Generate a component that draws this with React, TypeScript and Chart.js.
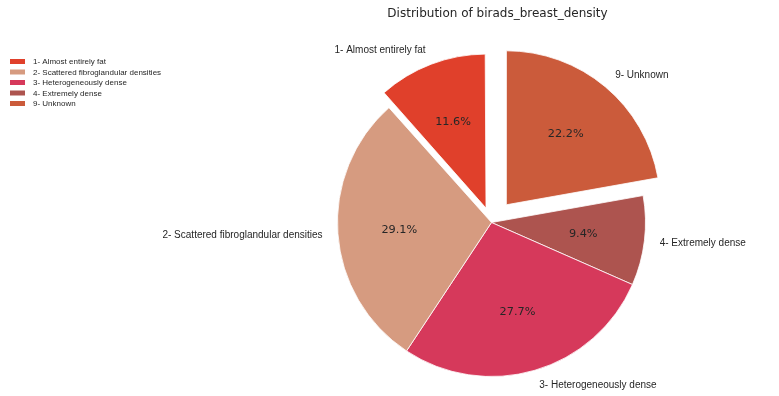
import React, { useEffect, useRef } from "react";
import { Chart, registerables } from "chart.js";

Chart.register(...registerables);

const categories = [
  "1- Almost entirely fat",
  "2- Scattered fibroglandular densities",
  "3- Heterogeneously dense",
  "4- Extremely dense",
  "9- Unknown",
];
const percentages = [11.6, 29.1, 27.7, 9.4, 22.2];
const colors = ["#E0402B", "#D69B80", "#D6395B", "#AD544F", "#CB5B3B"];
const explode = [0.1, 0, 0, 0, 0.15];
const titleText = "Distribution of birads_breast_density";

const W = 779;
const H = 396;
const R = 154;
const TEXT = "#262626";

// matplotlib draws counter-clockwise from 12 o'clock; Chart.js goes clockwise,
// so feed the slices in reverse order.
const order = [4, 3, 2, 1, 0];

const piePlugin = {
  id: "mplPie",
  afterDatasetsUpdate(chart: any) {
    const meta = chart.getDatasetMeta(0);
    meta.data.forEach((arc: any) => {
      const off = (arc.options?.offset || 0) / 4;
      const circ = arc.endAngle - arc.startAngle;
      const fix = 1 - Math.sin(Math.min(Math.PI, circ));
      arc.outerRadius = R - off * fix;
    });
  },
  afterDraw(chart: any) {
    const ctx = chart.ctx;
    const meta = chart.getDatasetMeta(0);
    ctx.save();
    meta.data.forEach((arc: any, j: number) => {
      const i = order[j];
      const mid = (arc.startAngle + arc.endAngle) / 2;
      const d = explode[i] * R;
      const cx = arc.x + Math.cos(mid) * d;
      const cy = arc.y + Math.sin(mid) * d;
      // outer label
      const lx = cx + Math.cos(mid) * R * 1.1;
      const ly = cy + Math.sin(mid) * R * 1.1;
      ctx.fillStyle = TEXT;
      ctx.font = '10px "Liberation Sans", Arial, sans-serif';
      ctx.textBaseline = "middle";
      ctx.textAlign = Math.cos(mid) >= 0 ? "left" : "right";
      ctx.fillText(categories[i], lx, ly + 0.5);
      // percentage
      const px = cx + Math.cos(mid) * R * 0.6;
      const py = cy + Math.sin(mid) * R * 0.6;
      ctx.font = '11.3px "DejaVu Sans", sans-serif';
      ctx.textAlign = "center";
      ctx.fillText(percentages[i].toFixed(1) + "%", px, py + 0.5);
    });
    // title
    ctx.font = '12px "DejaVu Sans", sans-serif';
    ctx.textAlign = "center";
    ctx.textBaseline = "middle";
    ctx.fillStyle = TEXT;
    ctx.fillText(titleText, 497.5, 13.5);
    // legend
    ctx.font = '8px "Liberation Sans", Arial, sans-serif';
    ctx.textAlign = "left";
    categories.forEach((c, i) => {
      const y = 61.5 + i * 10.5;
      ctx.fillStyle = colors[i];
      ctx.fillRect(10, y - 2.5, 15, 5);
      ctx.fillStyle = TEXT;
      ctx.fillText(c, 33, y + 0.5);
    });
    ctx.restore();
  },
};

export default function App() {
  const ref = useRef<HTMLCanvasElement | null>(null);
  useEffect(() => {
    if (!ref.current) return;
    const chart = new Chart(ref.current, {
      type: "pie",
      data: {
        labels: order.map((i) => categories[i]),
        datasets: [
          {
            data: order.map((i) => percentages[i]),
            backgroundColor: order.map((i) => colors[i]),
            borderColor: "#ffffff",
            borderWidth: 0.8,
            offset: order.map((i) => explode[i] * R * 4),
          } as any,
        ],
      },
      options: {
        responsive: false,
        animation: false,
        radius: R,
        rotation: 0,
        layout: { padding: { left: 204, right: 0, top: 49, bottom: 0 } },
        plugins: {
          legend: { display: false },
          title: { display: false },
          tooltip: { enabled: false },
        },
      } as any,
      plugins: [piePlugin],
    });
    return () => chart.destroy();
  }, []);
  return (
    <div style={{ position: "absolute", left: 0, top: 0, width: W, height: H, background: "#fff" }}>
      <canvas ref={ref} width={W} height={H} style={{ width: W, height: H, display: "block" }} />
    </div>
  );
}
